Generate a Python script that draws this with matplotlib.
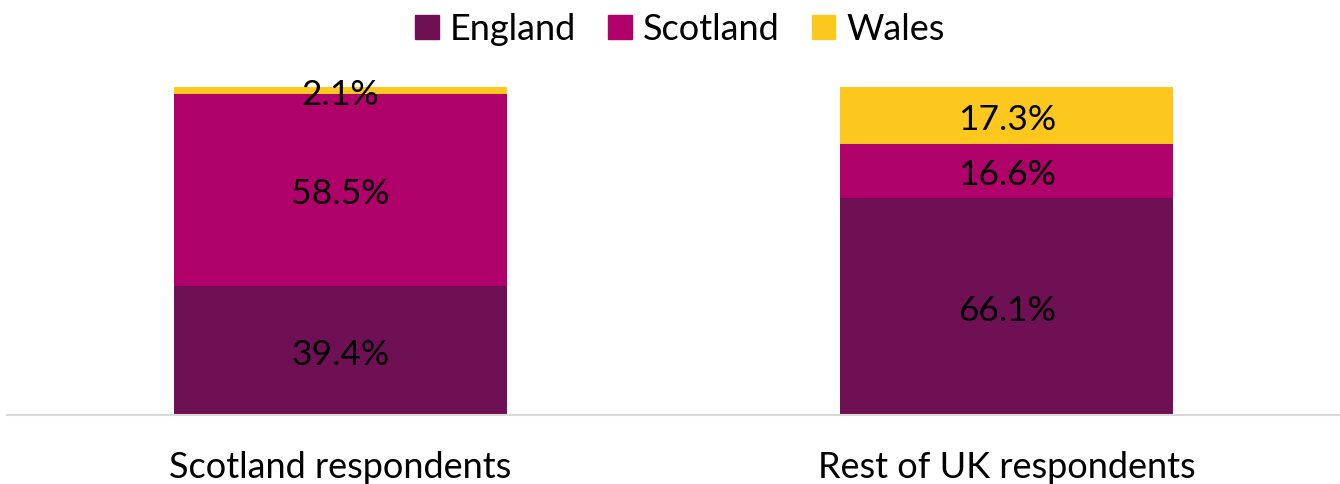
import matplotlib
matplotlib.use("Agg")
import matplotlib.pyplot as plt
import numpy as np

categories = ["Scotland respondents", "Rest of UK respondents"]
series_names = ["England", "Scotland", "Wales"]
england = [39.4, 66.1]
scotland = [58.5, 16.6]
wales = [2.1, 17.3]
colors = ["#6F1054", "#B0006A", "#FCC81E"]

plt.rcParams['font.family'] = ['Lato', 'DejaVu Sans']

fig = plt.figure(figsize=(13.4, 4.84), dpi=100)
ax = fig.add_axes([7/1340, 69/484, 1 - 7/1340, 328/484])

x = np.arange(len(categories))
bottom = np.zeros(len(categories))
for name, vals, c in zip(series_names, [england, scotland, wales], colors):
    vals = np.array(vals)
    ax.bar(x, vals, 0.5, bottom=bottom, color=c, label=name)
    for xi, b, v in zip(x, bottom, vals):
        ax.annotate(f"{v:.1f}%", (xi, b + v / 2), xytext=(0, -3),
                    textcoords="offset points", ha="center", va="center",
                    fontsize=25.5, color="black")
    bottom = bottom + vals

ax.set_xlim(-0.5, 1.5)
ax.set_ylim(0, 100)
ax.set_yticks([])
ax.set_xticks(x)
ax.set_xticklabels(categories, fontsize=26)
ax.tick_params(axis="x", length=0, pad=26)
for s in ["top", "right", "left"]:
    ax.spines[s].set_visible(False)
ax.spines["bottom"].set_color("#D9D9D9")
ax.spines["bottom"].set_linewidth(1.5)

handles = [plt.Rectangle((0, 0), 1, 1, color=c) for c in colors]
fig.legend(handles, series_names, loc="center",
           bbox_to_anchor=(0.5 + 10/1340, 1 - 29/484),
           ncol=3, frameon=False, fontsize=26, handlelength=0.65, handleheight=0.65,
           handletextpad=0.3, columnspacing=0.9)

fig.savefig("out.png", dpi=100)
